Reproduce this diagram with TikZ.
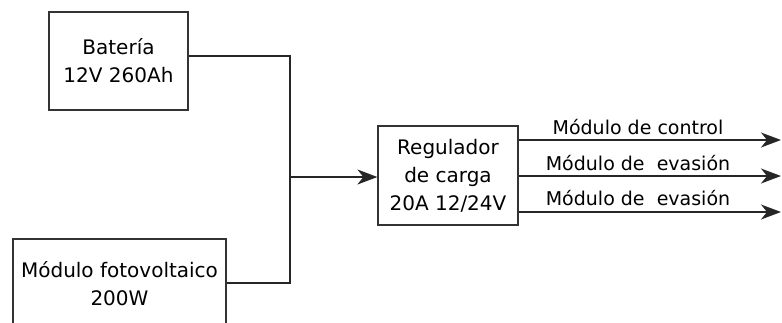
\documentclass[tikz,border=0pt]{standalone}
\usepackage{fontspec}
\setmainfont{DejaVu Sans}
\usetikzlibrary{arrows.meta, positioning, calc}
\tikzset{
  block/.style={rectangle, draw=black!80, line width=1.2pt, align=center,
                font=\fontsize{20}{28}\selectfont, inner sep=0pt},
  wire/.style={draw=black!85, line width=1.6pt},
  arrow/.style={-{Stealth[length=20pt, width=15pt, inset=6pt]}, draw=black!85,
                line width=1.6pt},
  label/.style={font=\fontsize{19}{23}\selectfont, inner sep=0pt},
}

\begin{document}
\begin{tikzpicture}[x=1pt, y=-1pt]
  \useasboundingbox (0,0) rectangle (782,322);
  \clip (0,0) rectangle (782,322);

  \node[block, minimum width=139pt, minimum height=98pt] (bat) at (118.5,61)
    {Batería\\12V 260Ah};
  \node[block, minimum width=213pt, minimum height=90pt] (pv) at (119.5,284)
    {Módulo fotovoltaico\\200W};
  \node[block, minimum width=140pt, minimum height=99pt] (reg) at (448,175.5)
    {Regulador\\de carga\\20A 12/24V};

  \coordinate (jn) at (290,177);
  \coordinate (o1) at (781,140);
  \coordinate (o2) at (781,176);
  \coordinate (o3) at (781,212);

  \draw[wire] ([yshift=5pt]bat.east) -| (jn);
  \draw[wire] ([yshift=1pt]pv.east) -| (jn);
  \draw[arrow] (jn) -- (reg.west |- jn);

  \draw[arrow] (reg.east |- o1) -- (o1);
  \draw[arrow] (reg.east |- o2) -- (o2);
  \draw[arrow] (reg.east |- o3) -- (o3);

  \node[label] (l1) at (638,127) {Módulo de control};
  \node[label] (l2) at (638,163) {Módulo de\ \ evasión};
  \node[label] (l3) at (638,198) {Módulo de\ \ evasión};
\end{tikzpicture}
\end{document}
